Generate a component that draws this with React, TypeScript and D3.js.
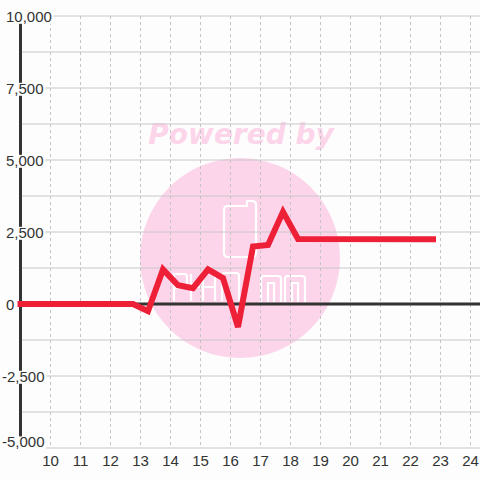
import React, { useEffect, useRef } from "react";
import * as d3 from "d3";

const xValues = [9, 12.75, 13.25, 13.75, 14.25, 14.75, 15.25, 15.75, 16.25, 16.75, 17.25, 17.75, 18.25, 22.75];
const yValues = [0, 0, -250, 1200, 650, 550, 1200, 900, -800, 2000, 2050, 3200, 2260, 2250];
const xTicks = [10, 11, 12, 13, 14, 15, 16, 17, 18, 19, 20, 21, 22, 23, 24];
const yTicks = [-5000, -2500, 0, 2500, 5000, 7500, 10000];
const yMinorTicks = [-3750, -1250, 1250, 3750, 6250, 8750];

const W = 480;
const H = 480;
const BG = "#fcfdfc";
const PINK = "#fcd5eb";
const FONT = "'Liberation Sans', Arial, sans-serif";

export default function App() {
  const ref = useRef<SVGSVGElement | null>(null);

  useEffect(() => {
    const svg = d3.select(ref.current);
    svg.selectAll("*").remove();

    const x = d3.scaleLinear().domain([9, 24]).range([20.5, 470.5]);
    const y = d3.scaleLinear().domain([-5000, 10000]).range([448, 16]);
    const [y0, y1] = [y(-5000), y(10000)];

    svg.append("rect").attr("width", W).attr("height", H).attr("fill", BG);

    // watermark
    const wm = svg.append("g");
    wm.append("circle").attr("cx", 240).attr("cy", 258).attr("r", 100).attr("fill", PINK);
    wm.append("text")
      .attr("x", 241).attr("y", 143.5)
      .attr("text-anchor", "middle")
      .attr("font-family", "'DejaVu Sans', Verdana, sans-serif")
      .attr("font-weight", "bold").attr("font-style", "italic")
      .attr("font-size", 28).attr("fill", PINK)
      .text("Powered by");
    const logo = wm.append("g").attr("fill", "none").attr("stroke", "#ffffff").attr("stroke-width", 2.2);
    logo.append("path").attr("d", "M228,206 H247 V201 H252 Q256,201 256,205 V253 Q256,257 252,257 H228 Q224,257 224,253 V210 Q224,206 228,206 Z");
    logo.append("path").attr("d", "M174,301 V274 H184 Q187,274 187,277 V285 Q187,288 184,288 H174");
    logo.append("path").attr("d", "M191,301 V274 M191,287 H215 M203,274 V301 M215,274 V301");
    logo.append("path").attr("d", "M222,301 V276 Q222,273 225,273 H236 Q239,273 239,276 V301");
    logo.append("path").attr("d", "M261,302 V279 Q261,276 264,276 H278 Q281,276 281,279 V302 M268,302 V283 H274 V302");
    logo.append("path").attr("d", "M285,302 V279 Q285,276 288,276 H302 Q305,276 305,279 V302 M292,302 V283 H298 V302");

    // horizontal gridlines
    const grid = svg.append("g");
    [...yTicks, ...yMinorTicks].forEach((v) => {
      grid.append("line")
        .attr("x1", x(9)).attr("x2", W)
        .attr("y1", y(v)).attr("y2", y(v))
        .attr("stroke", "#c8c8c8").attr("stroke-width", 1);
    });
    // vertical dashed gridlines
    xTicks.forEach((v) => {
      grid.append("line")
        .attr("x1", x(v)).attr("x2", x(v))
        .attr("y1", y1).attr("y2", y0)
        .attr("stroke", "#c4c4c4").attr("stroke-width", 1)
        .attr("stroke-dasharray", "3,3");
    });

    // axis line and zero line
    svg.append("line")
      .attr("x1", x(9)).attr("x2", x(9)).attr("y1", y1).attr("y2", y0)
      .attr("stroke", "#333333").attr("stroke-width", 3);
    svg.append("line")
      .attr("x1", x(9)).attr("x2", W).attr("y1", y(0)).attr("y2", y(0))
      .attr("stroke", "#333333").attr("stroke-width", 3);

    // series line
    const pts = xValues.map((v, i) => [v, yValues[i]] as [number, number]);
    const line = d3.line<[number, number]>().x((d) => x(d[0])).y((d) => y(d[1]));
    svg.append("path")
      .attr("d", line(pts) || "")
      .attr("fill", "none")
      .attr("stroke", "#ee2038")
      .attr("stroke-width", 6)
      .attr("stroke-linejoin", "miter")
      .attr("stroke-linecap", "square");

    // y labels with background
    const yl = svg.append("g");
    yTicks.forEach((v) => {
      const base = v === -5000 ? y(v) - 0.6 : y(v) + 5.8;
      const g = yl.append("g");
      const rect = g.append("rect").attr("fill", BG);
      const t = g.append("text")
        .attr("x", v < 0 ? 2 : 6)
        .attr("y", base)
        .attr("font-family", FONT)
        .attr("font-size", 15)
        .attr("fill", "#333333")
        .text(d3.format(",")(v).replace("\u2212", "-"));
      const bb = (t.node() as SVGTextElement).getBBox();
      rect.attr("x", bb.x - 1.5).attr("width", bb.width + 3)
        .attr("y", base - 11).attr("height", 13);
    });

    // x labels
    const xl = svg.append("g");
    xTicks.forEach((v) => {
      xl.append("text")
        .attr("x", x(v))
        .attr("y", 466)
        .attr("text-anchor", "middle")
        .attr("font-family", FONT)
        .attr("font-size", 15)
        .attr("fill", "#333333")
        .text(String(v));
    });
  }, []);

  return (
    <svg
      ref={ref}
      width={W}
      height={H}
      style={{ position: "absolute", left: 0, top: 0, display: "block" }}
    />
  );
}
